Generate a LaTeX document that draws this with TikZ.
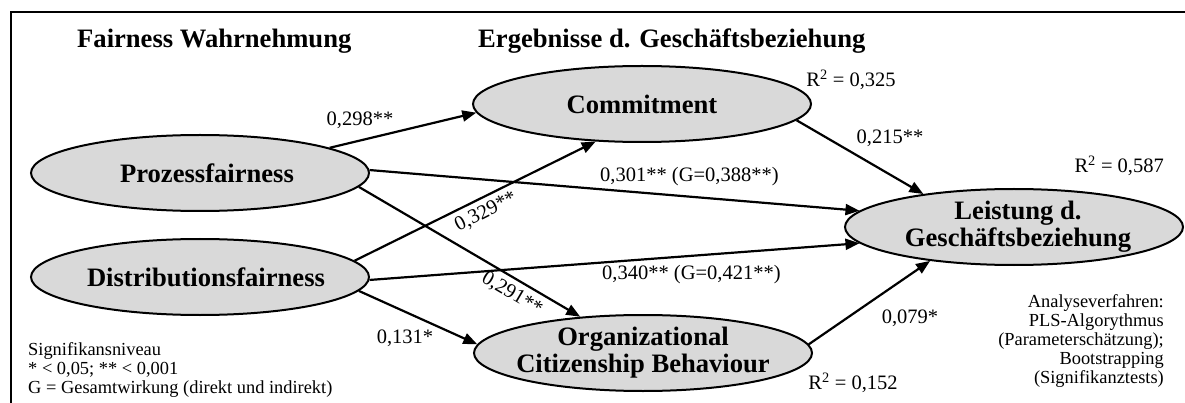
\documentclass[tikz,border=0pt]{standalone}
\usepackage{fontspec}
\setmainfont{Liberation Serif}
\usetikzlibrary{arrows.meta,shapes.geometric}
\definecolor{ovalfill}{RGB}{217,217,217}
\begin{document}
\begin{tikzpicture}[x=1pt,y=-1pt,
  oval/.style={ellipse, draw=black, line width=2pt, fill=ovalfill, minimum width=338pt, minimum height=76pt, inner sep=0pt},
  otext/.style={font=\fontsize{26.6}{27}\selectfont\bfseries, align=center, inner sep=0pt},
  head/.style={font=\fontsize{26.6}{27}\selectfont\bfseries, anchor=base west, inner sep=0pt},
  lab/.style={font=\fontsize{20.5}{22}\selectfont, inner sep=0pt},
  note/.style={font=\fontsize{18.4}{19}\selectfont, inner sep=0pt},
  arr/.style={line width=2.2pt, -{Triangle[length=14pt,width=11pt]}},
  frame/.style={line width=2.5pt}]
\useasboundingbox (0,0) rectangle (1185,403);
\fill[white] (0,0) rectangle (1185,403);
% frame
\draw[frame] (11,410) -- (11,12) -- (1190,12);
% headers
\node[head] (h1) at (77,48) {Fairness Wahrnehmung};
\node[head] (h2) at (478,48) {Ergebnisse d. Geschäftsbeziehung};
% ellipses
\node[oval, label={[otext]center:Commitment}] (C) at (642,104) {};
\node[oval, label={[otext, xshift=7pt]center:Prozessfairness}] (P) at (200,173) {};
\node[oval, label={[otext, xshift=6pt]center:Distributionsfairness}] (D) at (200,277) {};
\node[oval, label={[otext, xshift=4pt]center:{Leistung d.\\Geschäftsbeziehung}}] (L) at (1014,227) {};
\node[oval, label={[otext]center:{Organizational\\Citizenship Behaviour}}] (O) at (643,353) {};
% connectors
\draw[arr] (P.11.3) -- (C.183.5);
\draw[arr] (C.-6.9) -- (L.160);
\draw[arr] (P.1.4) -- (L.174.3);
\draw[arr] (D.-1) -- (L.186);
\draw[arr] (D.6.3) -- (C.219);
\draw[arr] (P.-5.3) -- (O.150.7);
\draw[arr] (D.-5.2) -- (O.177);
\draw[arr] (O.3) -- (L.202);
% edge labels
\node[lab] (e1) at (360,120) {0,298**};
\node[lab] (e2) at (890,138) {0,215**};
\node[lab, anchor=west] (e3) at (600,177) {0,301** (G=0,388**)};
\node[lab, anchor=west] (e4) at (602,275) {0,340** (G=0,421**)};
\node[lab, rotate=27] (e5) at (486,212) {0,329**};
\node[lab, rotate=-30.5] (e6) at (512,294) {0,291**};
\node[lab] (e7) at (405,338) {0,131*};
\node[lab] (e8) at (910,318) {0,079*};
% R^2
\node[lab] (r1) at (851,80) {R\textsuperscript{2} = 0,325};
\node[lab, anchor=east] (r2) at (1164,166) {R\textsuperscript{2} = 0,587};
\node[lab] (r3) at (853,383) {R\textsuperscript{2} = 0,152};
% notes
\node[note, anchor=west, align=left] (n1) at (28,370) {Signifikansniveau\\* < 0,05; ** < 0,001\\G = Gesamtwirkung (direkt und indirekt)};
\node[note, anchor=east, align=right] (n2) at (1164,341) {Analyseverfahren:\\PLS-Algorythmus\\(Parameterschätzung);\\Bootstrapping\\(Signifikanztests)};
\end{tikzpicture}
\end{document}
